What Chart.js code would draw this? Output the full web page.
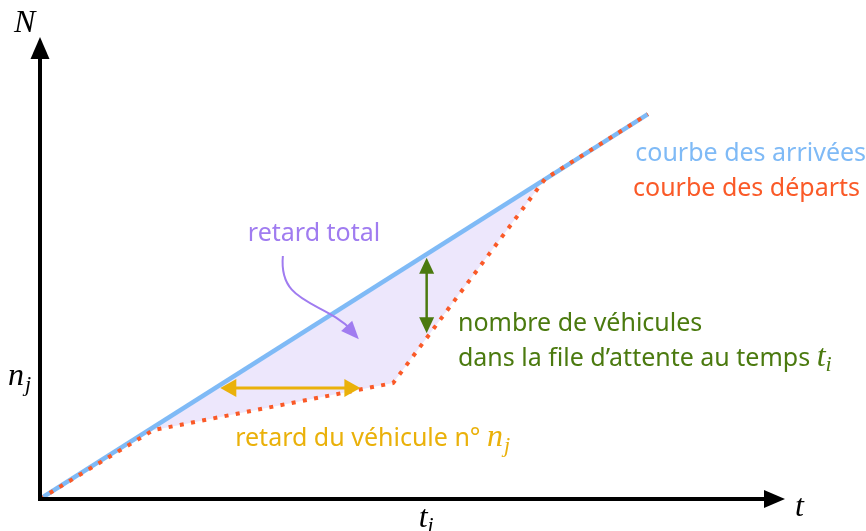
<!DOCTYPE html>
<html>
<head>
<meta charset="utf-8">
<script src="https://cdn.jsdelivr.net/npm/chart.js@4.4.1/dist/chart.umd.min.js"></script>
<style>
  html, body { margin: 0; padding: 0; background: #fff; }
  #wrap { width: 866px; height: 531px; }
</style>
</head>
<body>
<div id="wrap"><canvas id="chart" width="866" height="531"></canvas></div>
<script>
// courbe des arrivées (temps, nombre cumulé de véhicules)
const tempsArrivees = [0, 81.6];
const vehiculesArrivees = [0, 83.3];

// courbe des départs
const tempsDeparts = [0, 15.2, 47.4, 67.8, 81.6];
const vehiculesDeparts = [0, 14.9, 25.1, 69.3, 83.3];

// repères
const ti = 51.9;
const nj = 24;
const fileAttente = [52.2, 35.9];      // N de part et d'autre, au temps ti
const retardVehicule = [24.2, 43.0];   // t de part et d'autre, pour n = nj

// flèche "retard total" : départ, contrôles, arrivée (t, N)
const flecheTotal = [[32.6, 52.6], [32.0, 42.0], [38.0, 43.0], [42.8, 34.6]];

const BLEU = '#7fbaf6';
const ORANGE = '#fa5a28';
const VIOLET = '#a07cf0';
const VERT = '#4b7a0f';
const JAUNE = '#eab10a';

const SANS = '25px "Noto Sans"';
const MATH = 'italic 32px "Liberation Serif"';
const MATH_SUB = 'italic 22px "Liberation Serif"';

function toData(t, n) {
    return t.map((v, i) => ({ x: v, y: n[i] }));
}

function arrowHead(ctx, x, y, angle, len, width) {
    ctx.save();
    ctx.translate(x, y);
    ctx.rotate(angle);
    ctx.beginPath();
    ctx.moveTo(0, 0);
    ctx.lineTo(-len, -width / 2);
    ctx.lineTo(-len, width / 2);
    ctx.closePath();
    ctx.fill();
    ctx.restore();
}

// texte composé de plusieurs morceaux (police normale + math)
function richText(ctx, x, y, runs, color) {
    ctx.fillStyle = color;
    ctx.textBaseline = 'alphabetic';
    ctx.textAlign = 'left';
    let cx = x;
    runs.forEach(r => {
        ctx.font = r.font;
        ctx.fillText(r.text, cx, y + (r.dy || 0));
        cx += ctx.measureText(r.text).width + (r.gap || 0);
    });
}

const annotations = {
    id: 'annotations',
    afterDatasetsDraw(chart) {
        const ctx = chart.ctx;
        const xs = chart.scales.x;
        const ys = chart.scales.y;
        const px = v => xs.getPixelForValue(v);
        const py = v => ys.getPixelForValue(v);
        const x0 = px(0), y0 = py(0);

        ctx.save();
        // axes
        ctx.strokeStyle = '#000';
        ctx.fillStyle = '#000';
        ctx.lineWidth = 4;
        ctx.beginPath();
        ctx.moveTo(x0, y0 + 2);
        ctx.lineTo(x0, chart.chartArea.top + 18);
        ctx.moveTo(x0 - 2, y0);
        ctx.lineTo(chart.chartArea.right - 18, y0);
        ctx.stroke();
        arrowHead(ctx, x0, chart.chartArea.top, -Math.PI / 2, 22, 19);
        arrowHead(ctx, chart.chartArea.right, y0, 0, 21, 18);

        // noms des axes et repères
        richText(ctx, 14, 32, [{ text: 'N', font: MATH }], '#000');
        richText(ctx, chart.chartArea.right + 10, y0 + 17, [{ text: 't', font: MATH }], '#000');
        richText(ctx, px(ti) - 8, y0 + 28, [
            { text: 't', font: MATH, gap: 0 },
            { text: 'i', font: MATH_SUB, dy: 5 }
        ], '#000');
        richText(ctx, 8, py(nj) - 3, [
            { text: 'n', font: MATH, gap: 1 },
            { text: 'j', font: MATH_SUB, dy: 6 }
        ], '#000');

        // flèche jaune : retard du véhicule nj
        ctx.strokeStyle = JAUNE;
        ctx.fillStyle = JAUNE;
        ctx.lineWidth = 3;
        const ya = py(nj);
        const xa = px(retardVehicule[0]), xb = px(retardVehicule[1]);
        ctx.beginPath();
        ctx.moveTo(xa + 10, ya);
        ctx.lineTo(xb - 10, ya);
        ctx.stroke();
        arrowHead(ctx, xa, ya, Math.PI, 16, 18);
        arrowHead(ctx, xb, ya, 0, 16, 18);

        // flèche verte : file d'attente au temps ti
        ctx.strokeStyle = VERT;
        ctx.fillStyle = VERT;
        ctx.lineWidth = 2.5;
        const xg = px(ti);
        const ga = py(fileAttente[0]), gb = py(fileAttente[1]);
        ctx.beginPath();
        ctx.moveTo(xg, ga + 10);
        ctx.lineTo(xg, gb - 10);
        ctx.stroke();
        arrowHead(ctx, xg, ga, -Math.PI / 2, 16, 15);
        arrowHead(ctx, xg, gb, Math.PI / 2, 16, 15);

        // flèche courbe violette : retard total
        const p = flecheTotal.map(q => [px(q[0]), py(q[1])]);
        ctx.strokeStyle = VIOLET;
        ctx.fillStyle = VIOLET;
        ctx.lineWidth = 2;
        ctx.beginPath();
        ctx.moveTo(p[0][0], p[0][1]);
        ctx.bezierCurveTo(p[1][0], p[1][1], p[2][0], p[2][1], p[3][0] - 6, p[3][1] - 8);
        ctx.stroke();
        const ang = Math.atan2(p[3][1] - p[2][1], p[3][0] - p[2][0]);
        arrowHead(ctx, p[3][0], p[3][1], ang, 18, 15);

        // textes
        richText(ctx, px(27.9), py(55.8), [{ text: 'retard total', font: SANS }], VIOLET);
        richText(ctx, px(56.1), py(36.4), [{ text: 'nombre de véhicules', font: SANS }], VERT);
        richText(ctx, px(56.1), py(28.8), [
            { text: 'dans la file d’attente au temps ', font: SANS },
            { text: 't', font: MATH, gap: 0 },
            { text: 'i', font: MATH_SUB, dy: 5 }
        ], VERT);
        richText(ctx, px(26.2), py(11.5), [
            { text: 'retard du véhicule n° ', font: SANS },
            { text: 'n', font: MATH, gap: 1 },
            { text: 'j', font: MATH_SUB, dy: 6 }
        ], JAUNE);
        richText(ctx, px(79.9), py(73.2), [{ text: 'courbe des arrivées', font: SANS }], BLEU);
        richText(ctx, px(79.6), py(65.6), [{ text: 'courbe des départs', font: SANS }], ORANGE);
        ctx.restore();
    }
};

new Chart(document.getElementById('chart'), {
    type: 'line',
    data: {
        datasets: [
            {
                label: 'courbe des arrivées',
                data: toData(tempsArrivees, vehiculesArrivees),
                borderColor: BLEU,
                borderWidth: 4.5,
                pointRadius: 0,
                tension: 0,
                fill: false,
                order: 1
            },
            {
                label: 'courbe des départs',
                data: toData(tempsDeparts, vehiculesDeparts),
                borderColor: ORANGE,
                borderWidth: 4,
                borderDash: [4, 7.4],
                pointRadius: 0,
                tension: 0,
                fill: { target: 0 },
                backgroundColor: '#ede7fc',
                order: 0
            }
        ]
    },
    options: {
        responsive: false,
        devicePixelRatio: 1,
        animation: false,
        layout: { padding: { left: 40, right: 81, top: 37, bottom: 32 } },
        plugins: {
            legend: { display: false },
            tooltip: { enabled: false },
            filler: { drawTime: 'beforeDatasetsDraw' }
        },
        scales: {
            x: { type: 'linear', min: 0, max: 100, display: false },
            y: { type: 'linear', min: 0, max: 100, display: false }
        }
    },
    plugins: [annotations]
});
</script>
</body>
</html>
